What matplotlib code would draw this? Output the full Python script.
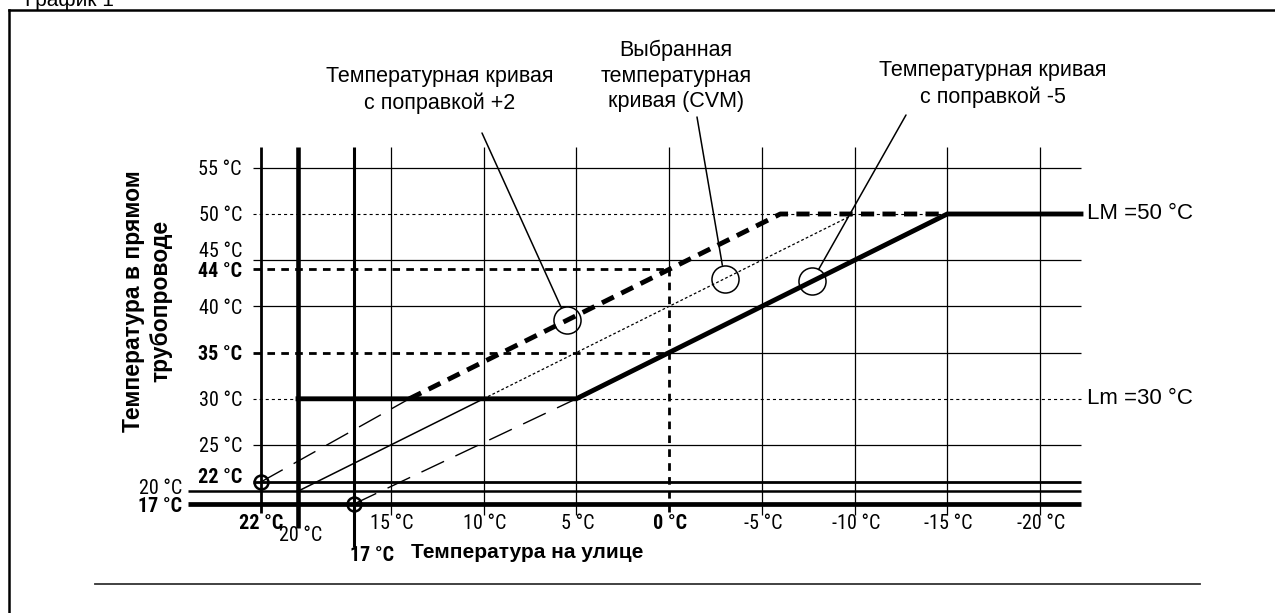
import numpy as np
import matplotlib
matplotlib.use('Agg')
import matplotlib.pyplot as plt
from matplotlib import font_manager
from matplotlib.lines import Line2D

W, H = 1275, 613

# outdoor temperature ticks, °C (bold ones are the marked values)
x_ticks = [22, 15, 10, 5, 0, -5, -10, -15, -20]
x_bold = [22, 0]
# flow temperature ticks, °C
y_ticks = [55, 50, 45, 44, 40, 35, 30, 25, 22, 20, 17]
y_bold = [44, 35, 22, 17]

# curve breakpoints: outdoor temperature -> flow temperature
cvm_solid_out, cvm_solid_flow = [20, 10], [20, 30]
cvm_dot_out, cvm_dot_flow = [10, -10], [30, 50]
plus2_ext_out, plus2_ext_flow = [22, 14], [22, 30]
plus2_out, plus2_flow = [14, -6, -15], [30, 50, 50]
minus5_ext_out, minus5_ext_flow = [17, 5], [17, 30]
minus5_out, minus5_flow = [20, 5, -15], [30, 30, 50]

# marked points
circle_out, circle_flow = [5.5, -3, -7.7], [38.5, 43, 42.7]
start_out, start_flow = [22, 17], [22, 17]

grid_x = [15, 10, 5, -5, -10, -15, -20]
grid_y = [55, 45, 40, 25]
LM, Lm = 50, 30

notes = ['Температурная кривая\nс поправкой +2',
         'Выбранная\nтемпературная\nкривая (CVM)',
         'Температурная кривая\nс поправкой -5']

plt.rcParams['lines.scale_dashes'] = False
TEXT_FONT = 'Liberation Sans'

# tick labels want a narrow face; take whichever is installed
names = {f.name for f in font_manager.fontManager.ttflist}
narrow = [('Liberation Sans Narrow', 15), ('Roboto Condensed', 14.5),
          ('DejaVu Sans Condensed', 13.5), ('Open Sans Condensed', 14.5)]
TICK_FONT, TICK_SIZE = next(((n, s) for n, s in narrow if n in names),
                            ('Liberation Sans', 12.5))
TICK_STRETCH = 'normal'
if TICK_FONT == 'Liberation Sans':
    fp = font_manager.FontProperties(family='DejaVu Sans', stretch='condensed')
    if 'Condensed' in font_manager.findfont(fp, fallback_to_default=False):
        TICK_FONT, TICK_SIZE, TICK_STRETCH = 'DejaVu Sans', 13.5, 'condensed'

fig = plt.figure(figsize=(W / 100, H / 100), dpi=100)
ax = fig.add_axes([0, 0, 1, 1])
ax.axis('off')

# schematic flow axis: the band under 25 °C is squeezed
F_KNOTS = [-200, 17, 20, 22, 25, 300]
POS_KNOTS = [18.6 - 217 * 0.467, 18.6, 20, 21.0, 25, 300]


def fwd(v):
    return np.interp(v, F_KNOTS, POS_KNOTS)


def inv(p):
    return np.interp(p, POS_KNOTS, F_KNOTS)


ax.set_yscale('function', functions=(fwd, inv))

X0_PX, X_STEP = 669, 18.55     # px of 0 °C, px per °C
Y25_PX, Y_STEP = 445, 9.24     # px of 25 °C, px per °C


def tx(px):
    return (X0_PX - px) / X_STEP


def ty(py):
    return inv(25 + (Y25_PX - py) / Y_STEP)


ax.set_xlim(tx(0), tx(W))
ax.set_ylim(ty(H), ty(0))

GL, GR, BL = tx(253), tx(1081), tx(188)
TOP, BOT = ty(147), ty(515)
k = 'black'

# grid
ax.vlines(grid_x, BOT, TOP, color=k, lw=0.9)
ax.vlines(0, 44, TOP, color=k, lw=0.9)
ax.hlines(grid_y, GL, GR, color=k, lw=0.9)
ax.hlines(35, 0, GR, color=k, lw=0.9)
ax.hlines([LM, Lm], GL, GR, color=k, lw=0.8, linestyle=(0, (2.2, 2.2)))

# 0 °C reading lines
ax.hlines([44, 35], GL, 0, color=k, lw=2.0, linestyle=(0, (5.5, 4.5)))
ax.vlines(0, ty(512), 44, color=k, lw=2.0, linestyle=(0, (5.5, 4.5)))

# base lines for the curve origins
ax.vlines(22, ty(513), TOP, color=k, lw=2.0)
ax.vlines(20, ty(528), TOP, color=k, lw=3.3)
ax.vlines(17, ty(547), TOP, color=k, lw=2.2)
ax.hlines(22, GL, GR, color=k, lw=2.0)
ax.hlines(20, BL, GR, color=k, lw=1.8)
ax.hlines(17, BL, GR, color=k, lw=3.4)

# curves
ax.plot(cvm_solid_out, cvm_solid_flow, color=k, lw=1.1)
ax.plot(cvm_dot_out, cvm_dot_flow, color=k, lw=0.9, linestyle=(0, (2, 1.6)))
ax.plot(plus2_ext_out, plus2_ext_flow, color=k, lw=1.0, linestyle=(0, (18, 9)))
ax.plot(minus5_ext_out, minus5_ext_flow, color=k, lw=1.0, linestyle=(0, (18, 9)))
ax.plot(minus5_out + [GR], minus5_flow + [LM], color=k, lw=3.5,
        solid_joinstyle='miter')
ax.plot(plus2_out, plus2_flow, color=k, lw=3.5, linestyle=(0, (9.5, 6)))

ax.plot(start_out, start_flow, 'o', ms=10, mfc='none', mec=k, mew=1.8)
ax.plot(circle_out, circle_flow, 'o', ms=19.5, mfc='none', mec=k, mew=1.1)

# callouts
note_px = [(440, 90), (676, 76), (993, 84)]
lead_px = [(482, 133), (697, 117), (906, 115)]
for txt, (nx, ny), (lx, ly), co, cf in zip(notes, note_px, lead_px,
                                          circle_out, circle_flow):
    ax.text(tx(nx), ty(ny), txt, ha='center', va='center', fontsize=15.5,
            family=TEXT_FONT, linespacing=1.3)
    ax.annotate('', xy=(co, cf), xytext=(tx(lx), ty(ly)),
                arrowprops=dict(arrowstyle='-', color=k, lw=1.1,
                                shrinkA=0, shrinkB=9.8))

ax.text(tx(1087), LM, 'LM =50 °C', ha='left', va='center', fontsize=16,
        family=TEXT_FONT)
ax.text(tx(1087), Lm, 'Lm =30 °C', ha='left', va='center', fontsize=16,
        family=TEXT_FONT)

# tick labels
tick_kw = dict(fontsize=TICK_SIZE, family=TICK_FONT, fontstretch=TICK_STRETCH)
y_shift = {45: -9, 22: -4, 20: -3}
for v in y_ticks:
    right = 182 if v in (20, 17) else 242
    ax.annotate(f'{v} °C', xy=(tx(right), v), xytext=(0, -0.72 * y_shift.get(v, 2)),
                textcoords='offset points', ha='right', va='center',
                fontweight='bold' if v in y_bold else 'normal', **tick_kw)

for v in x_ticks:
    ax.annotate(f'{v} °C', xy=(v, ty(524)), xytext=(0 if v == 22 else 1, 0),
                textcoords='offset points', ha='center', va='center',
                fontweight='bold' if v in x_bold else 'normal', **tick_kw)
ax.text(tx(301), ty(536), '20 °C', ha='center', va='center', **tick_kw)
ax.text(tx(372), ty(556), '17 °C', ha='center', va='center',
        fontweight='bold', **tick_kw)

ax.text(tx(527), ty(553), 'Температура на улице', ha='center', va='center',
        fontsize=15, family=TEXT_FONT, fontweight='bold')
ax.text(tx(147), ty(301), 'Температура в прямом\nтрубопроводе', ha='center',
        va='center', rotation=90, fontsize=16.5, family=TEXT_FONT,
        fontweight='bold', linespacing=1.25)

# page frame, caption and rule
fig.add_artist(Line2D([9 / W, 9 / W], [0, 1 - 10 / H], color=k, lw=1.8))
fig.add_artist(Line2D([9 / W, 1], [1 - 10 / H] * 2, color=k, lw=1.8))
fig.add_artist(Line2D([95 / W, 1200 / W], [1 - 584 / H] * 2, color='#333333', lw=1.3))
fig.text(25 / W, 1 - 6 / H, 'График 1', fontsize=15, family=TEXT_FONT, va='baseline')

fig.savefig('out.png', dpi=100, facecolor='white')
